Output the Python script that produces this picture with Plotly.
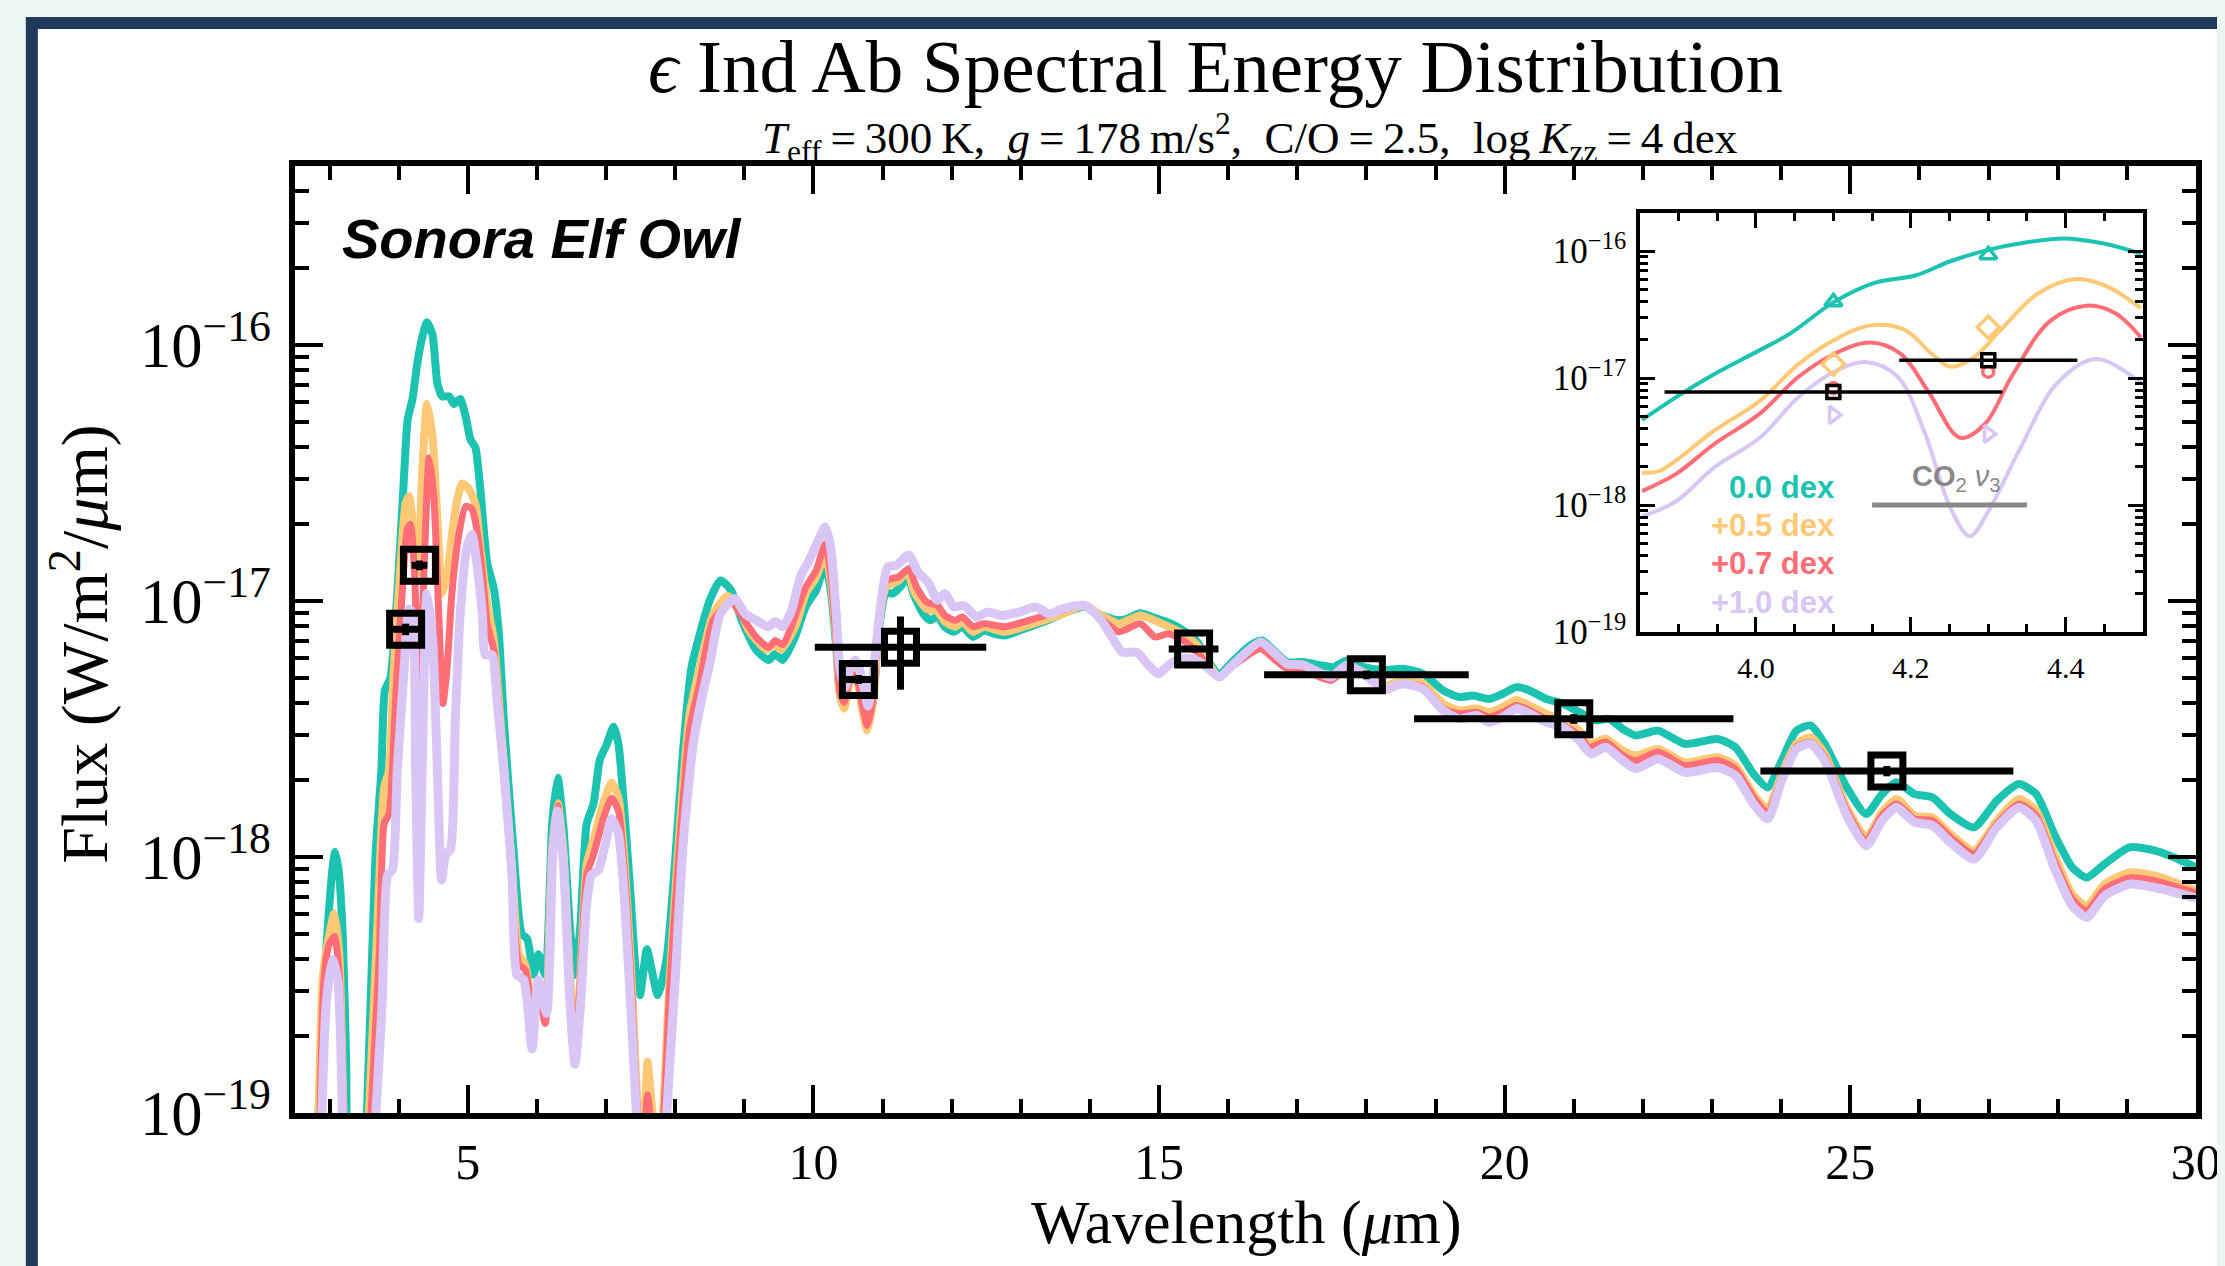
import plotly.graph_objects as go

# ---------------- data (log10 flux in W/m^2/um) ----------------
teal_wl = [2.78, 2.86, 2.93, 2.98, 3.04, 3.08, 3.13, 3.19, 3.24, 3.29, 3.45, 3.54, 3.62, 3.67, 3.75, 3.80, 3.88,
           3.98, 4.08, 4.13, 4.20, 4.27, 4.34, 4.41, 4.49, 4.56, 4.63, 4.73, 4.80, 4.89, 4.97, 5.04, 5.11, 5.18,
           5.28, 5.375, 5.45, 5.52, 5.66, 5.78, 5.86, 5.95, 6.02, 6.12, 6.22, 6.30, 6.38, 6.48, 6.55, 6.625,
           6.72, 6.82, 6.91, 7.01, 7.11, 7.18, 7.25, 7.35, 7.44, 7.49, 7.59, 7.66, 7.75, 7.875, 7.995, 8.115,
           8.235, 8.355, 8.50, 8.654, 8.81, 8.963, 9.17, 9.35, 9.45, 9.555, 9.735, 9.89, 10.04, 10.17, 10.25,
           10.33, 10.38, 10.43, 10.51, 10.61, 10.71, 10.79, 10.87, 10.945, 11.05, 11.15, 11.255, 11.36, 11.46,
           11.59, 11.69, 11.795, 11.90, 12.03, 12.155, 12.31, 12.465, 12.62, 12.77, 12.98, 13.185, 13.39, 13.60,
           13.80, 13.93, 14.06, 14.215, 14.42, 14.525, 14.73, 14.885, 15.04, 15.19, 15.35, 15.554, 15.70, 15.87,
           16.08, 16.32, 16.49, 16.66, 16.85, 17.09, 17.33, 17.52, 17.72, 17.96, 18.25, 18.53, 18.82, 19.11,
           19.35, 19.54, 19.78, 19.975, 20.17, 20.36, 20.60, 20.84, 21.08, 21.32, 21.51, 21.71, 21.90, 22.22,
           22.61, 23.08, 23.34, 23.60, 23.805, 24.01, 24.22, 24.43, 24.63, 24.95, 25.23, 25.46, 25.67, 25.93,
           26.19, 26.45, 26.79, 27.12, 27.44, 27.69, 27.95, 28.21, 28.42, 28.68, 29.04, 29.41, 29.67, 30.0]
teal_logf = [-19.3, -18.9, -18.45, -18.25, -18.05, -17.98, -18.05, -18.3, -18.8, -19.4, -19.5, -19.0, -18.35,
             -17.97, -17.66, -17.35, -17.30, -16.97, -16.50, -16.29, -16.21, -16.07, -15.97, -15.91, -15.96,
             -16.15, -16.20, -16.20, -16.23, -16.21, -16.28, -16.37, -16.40, -16.56, -16.85, -16.95, -17.13,
             -17.46, -17.97, -18.30, -18.32, -18.46, -18.38, -18.46, -17.87, -17.69, -17.87, -18.28, -18.46,
             -18.28, -17.87, -17.79, -17.62, -17.56, -17.49, -17.56, -17.77, -18.13, -18.48, -18.54, -18.36,
             -18.44, -18.54, -18.40, -18.03, -17.58, -17.26, -17.13, -16.997, -16.919, -16.958, -17.075, -17.19,
             -17.23, -17.206, -17.23, -17.14, -17.02, -16.958, -16.854, -16.958, -17.18, -17.36, -17.41, -17.31,
             -17.26, -17.41, -17.49, -17.375, -17.115, -16.97, -16.97, -16.945, -16.906, -16.98, -17.05, -17.075,
             -17.06, -17.10, -17.12, -17.10, -17.14, -17.115, -17.128, -17.134, -17.115, -17.095, -17.075, -17.05,
             -17.03, -17.02, -17.043, -17.06, -17.075, -17.07, -17.047, -17.06, -17.075, -17.09, -17.115, -17.16,
             -17.23, -17.284, -17.232, -17.173, -17.154, -17.193, -17.238, -17.238, -17.25, -17.258, -17.232,
             -17.258, -17.27, -17.264, -17.284, -17.349, -17.375, -17.369, -17.382, -17.362, -17.336, -17.349,
             -17.382, -17.40, -17.434, -17.466, -17.46, -17.50, -17.525, -17.506, -17.558, -17.539, -17.571,
             -17.675, -17.728, -17.623, -17.506, -17.486, -17.558, -17.728, -17.832, -17.754, -17.708, -17.754,
             -17.767, -17.832, -17.884, -17.78, -17.715, -17.754, -17.91, -18.04, -18.08, -18.027, -17.962,
             -17.975, -18.0, -18.04]

orange_wl = [2.82, 2.90, 2.97, 3.07, 3.14, 3.21, 3.26, 3.48, 3.57, 3.69, 3.79, 3.86, 3.93, 4.03, 4.10, 4.15,
             4.22, 4.28, 4.34, 4.41, 4.49, 4.56, 4.63, 4.70, 4.77, 4.85, 4.92, 5.01, 5.11, 5.18, 5.28, 5.375,
             5.47, 5.62, 5.74, 5.83, 5.95, 6.02, 6.12, 6.22, 6.30, 6.38, 6.48, 6.55, 6.625, 6.72, 6.82, 6.96,
             7.08, 7.18, 7.27, 7.37, 7.47, 7.54, 7.60, 7.68, 7.78, 7.92, 8.07, 8.21, 8.355, 8.55, 8.757, 8.91,
             9.066, 9.324, 9.43, 9.53, 9.735, 9.89, 10.04, 10.17, 10.25, 10.33, 10.38, 10.445, 10.51, 10.61,
             10.71, 10.78, 10.87, 10.945, 11.05, 11.23, 11.36, 11.46, 11.64, 11.795, 11.90, 12.05, 12.155,
             12.31, 12.465, 12.77, 13.185, 13.60, 13.93, 14.165, 14.42, 14.73, 15.04, 15.35, 15.554, 15.87,
             16.08, 16.47, 16.66, 16.85, 17.09, 17.48, 17.72, 17.96, 18.25, 18.53, 18.82, 19.11, 19.35, 19.59,
             19.78, 19.975, 20.17, 20.36, 20.60, 20.84, 21.08, 21.22, 21.46, 21.71, 21.90, 22.22, 22.61, 23.08,
             23.34, 23.60, 23.805, 24.01, 24.22, 24.43, 24.63, 24.95, 25.23, 25.46, 25.67, 25.93, 26.19, 26.45,
             26.79, 27.12, 27.44, 27.69, 27.95, 28.21, 28.42, 28.68, 29.04, 29.41, 30.0]
orange_logf = [-19.3, -18.48, -18.34, -18.22, -18.38, -19.1, -19.5, -19.5, -19.0, -18.28, -17.73, -17.66, -17.26,
               -16.85, -16.62, -16.59, -16.74, -16.89, -16.50, -16.23, -16.36, -16.68, -16.97, -16.90, -16.74,
               -16.60, -16.54, -16.56, -16.62, -16.785, -17.01, -17.15, -17.46, -17.97, -18.38, -18.42, -18.61,
               -18.52, -18.63, -17.97, -17.79, -17.97, -18.48, -18.73, -18.48, -18.03, -17.93, -17.79, -17.71,
               -17.77, -18.03, -18.48, -19.01, -19.1, -18.80, -19.01, -19.1, -18.48, -17.87, -17.44, -17.26,
               -17.05, -16.98, -17.02, -17.115, -17.19, -17.167, -17.19, -17.10, -16.97, -16.906, -16.815, -16.92,
               -17.154, -17.36, -17.42, -17.336, -17.28, -17.43, -17.506, -17.375, -17.10, -16.945, -16.92,
               -16.886, -16.965, -17.03, -17.04, -17.08, -17.10, -17.08, -17.12, -17.10, -17.12, -17.088, -17.05,
               -17.017, -17.056, -17.088, -17.056, -17.088, -17.128, -17.173, -17.297, -17.245, -17.173, -17.212,
               -17.258, -17.264, -17.303, -17.258, -17.277, -17.33, -17.31, -17.323, -17.40, -17.427, -17.42,
               -17.434, -17.414, -17.386, -17.408, -17.44, -17.466, -17.506, -17.558, -17.538, -17.584, -17.603,
               -17.578, -17.63, -17.61, -17.643, -17.754, -17.812, -17.675, -17.558, -17.532, -17.597, -17.806,
               -17.923, -17.825, -17.773, -17.838, -17.845, -17.91, -17.975, -17.858, -17.773, -17.819, -17.988,
               -18.145, -18.19, -18.106, -18.06, -18.073, -18.13]

red_wl = [2.84, 2.92, 2.995, 3.07, 3.14, 3.21, 3.26, 3.50, 3.60, 3.72, 3.79, 3.86, 3.96, 4.05, 4.125, 4.17,
          4.23, 4.29, 4.37, 4.44, 4.51, 4.58, 4.64, 4.70, 4.77, 4.87, 4.97, 5.06, 5.13, 5.21, 5.28, 5.375, 5.47,
          5.62, 5.74, 5.83, 5.95, 6.02, 6.12, 6.22, 6.30, 6.38, 6.48, 6.55, 6.625, 6.72, 6.82, 6.96, 7.08, 7.18,
          7.27, 7.37, 7.47, 7.54, 7.60, 7.68, 7.78, 7.92, 8.07, 8.21, 8.355, 8.55, 8.81, 8.963, 9.17, 9.35, 9.45,
          9.555, 9.735, 9.89, 10.04, 10.17, 10.25, 10.33, 10.38, 10.445, 10.51, 10.61, 10.71, 10.78, 10.87,
          10.945, 11.05, 11.23, 11.38, 11.49, 11.64, 11.795, 11.90, 12.05, 12.155, 12.31, 12.465, 12.77, 13.185,
          13.60, 13.93, 14.165, 14.42, 14.73, 14.94, 15.14, 15.35, 15.554, 15.87, 16.08, 16.47, 16.66, 16.85,
          17.09, 17.48, 17.72, 17.96, 18.25, 18.53, 18.82, 19.11, 19.35, 19.59, 19.78, 19.975, 20.17, 20.36,
          20.60, 20.84, 21.08, 21.22, 21.46, 21.71, 21.90, 22.22, 22.61, 23.08, 23.34, 23.60, 23.805, 24.01,
          24.22, 24.43, 24.63, 24.95, 25.23, 25.46, 25.67, 25.93, 26.19, 26.45, 26.79, 27.12, 27.44, 27.69,
          27.95, 28.21, 28.42, 28.68, 29.04, 29.41, 30.0]
red_logf = [-19.3, -18.48, -18.34, -18.31, -18.46, -19.1, -19.5, -19.5, -19.0, -18.38, -17.87, -17.83, -17.36,
            -16.97, -16.72, -16.70, -16.89, -17.46, -16.85, -16.44, -16.60, -17.05, -17.40, -17.26, -16.97,
            -16.74, -16.63, -16.64, -16.72, -16.89, -17.09, -17.19, -17.50, -18.01, -18.42, -18.44, -18.63,
            -18.54, -18.65, -17.99, -17.80, -17.99, -18.50, -18.75, -18.50, -18.07, -17.99, -17.85, -17.77,
            -17.82, -18.07, -18.52, -19.05, -19.14, -18.93, -19.1, -19.18, -18.52, -17.93, -17.50, -17.32,
            -17.075, -17.004, -17.06, -17.14, -17.18, -17.154, -17.17, -17.06, -16.945, -16.88, -16.776, -16.893,
            -17.154, -17.35, -17.395, -17.32, -17.29, -17.41, -17.486, -17.36, -17.075, -16.92, -16.906, -16.873,
            -16.945, -17.004, -17.017, -17.056, -17.075, -17.062, -17.10, -17.088, -17.10, -17.07, -17.036,
            -17.017, -17.07, -17.12, -17.088, -17.14, -17.128, -17.154, -17.20, -17.297, -17.25, -17.186,
            -17.225, -17.264, -17.27, -17.31, -17.264, -17.284, -17.349, -17.323, -17.336, -17.42, -17.44,
            -17.434, -17.453, -17.434, -17.408, -17.427, -17.46, -17.486, -17.525, -17.571, -17.55, -17.603,
            -17.623, -17.59, -17.643, -17.623, -17.656, -17.767, -17.825, -17.688, -17.571, -17.552, -17.61,
            -17.819, -17.936, -17.838, -17.793, -17.851, -17.858, -17.923, -17.988, -17.871, -17.793, -17.838,
            -18.014, -18.164, -18.21, -18.125, -18.082, -18.093, -18.14]

lav_wl = [2.86, 2.95, 3.04, 3.12, 3.19, 3.24, 3.58, 3.67, 3.76, 3.84, 3.91, 3.98, 4.08, 4.15, 4.20, 4.245, 4.29,
          4.34, 4.41, 4.49, 4.56, 4.62, 4.68, 4.75, 4.82, 4.89, 4.99, 5.06, 5.13, 5.21, 5.255, 5.35, 5.42, 5.52,
          5.64, 5.71, 5.81, 5.93, 6.02, 6.14, 6.23, 6.30, 6.38, 6.48, 6.55, 6.63, 6.72, 6.79, 6.89, 6.99, 7.08,
          7.18, 7.27, 7.37, 7.44, 7.50, 7.80, 7.875, 8.0, 8.115, 8.26, 8.40, 8.50, 8.654, 8.86, 9.015, 9.17,
          9.35, 9.45, 9.555, 9.684, 9.81, 9.94, 10.07, 10.17, 10.25, 10.33, 10.38, 10.456, 10.53, 10.61, 10.71,
          10.79, 10.87, 10.97, 11.074, 11.20, 11.38, 11.51, 11.666, 11.795, 11.90, 12.03, 12.18, 12.36, 12.52,
          12.72, 12.98, 13.21, 13.42, 13.60, 13.93, 14.165, 14.32, 14.47, 14.68, 14.83, 14.99, 15.14, 15.30,
          15.50, 15.70, 15.87, 16.08, 16.47, 16.66, 16.85, 17.09, 17.48, 17.72, 17.96, 18.25, 18.53, 18.82,
          19.11, 19.35, 19.59, 19.78, 19.975, 20.17, 20.36, 20.60, 20.84, 21.08, 21.25, 21.46, 21.71, 21.90,
          22.22, 22.61, 23.08, 23.34, 23.60, 23.805, 24.01, 24.22, 24.43, 24.63, 24.95, 25.23, 25.46, 25.67,
          25.93, 26.19, 26.45, 26.79, 27.12, 27.44, 27.69, 27.95, 28.21, 28.42, 28.68, 29.04, 29.41, 30.0]
lav_logf = [-19.3, -18.58, -18.40, -18.48, -19.05, -19.5, -19.5, -19.0, -18.58, -18.07, -18.05, -17.66, -17.26,
            -17.03, -17.05, -17.66, -18.24, -17.66, -16.97, -17.15, -17.66, -18.09, -17.99, -17.97, -17.46,
            -17.05, -16.785, -16.74, -16.85, -17.05, -17.21, -17.21, -17.38, -17.66, -18.07, -18.46, -18.48,
            -18.75, -18.48, -18.61, -17.99, -17.82, -18.01, -18.58, -18.81, -18.58, -18.18, -18.07, -18.05,
            -17.95, -17.85, -17.91, -18.18, -18.65, -19.01, -19.4, -19.4, -19.01, -18.48, -17.95, -17.56, -17.36,
            -17.245, -17.05, -16.99, -17.05, -17.075, -17.10, -17.08, -17.10, -17.036, -16.906, -16.84, -16.763,
            -16.71, -16.79, -17.05, -17.258, -17.336, -17.258, -17.23, -17.31, -17.41, -17.27, -17.023, -16.867,
            -16.86, -16.82, -16.886, -16.93, -16.997, -16.97, -17.023, -17.017, -17.062, -17.043, -17.056,
            -17.043, -17.023, -17.05, -17.03, -17.017, -17.075, -17.14, -17.20, -17.20, -17.245, -17.284, -17.25,
            -17.225, -17.225, -17.26, -17.297, -17.245, -17.16, -17.20, -17.245, -17.25, -17.297, -17.25,
            -17.284, -17.343, -17.323, -17.343, -17.427, -17.46, -17.447, -17.473, -17.453, -17.42, -17.44,
            -17.473, -17.493, -17.545, -17.597, -17.571, -17.623, -17.655, -17.617, -17.669, -17.65, -17.682,
            -17.793, -17.851, -17.70, -17.578, -17.558, -17.623, -17.838, -17.956, -17.858, -17.806, -17.864,
            -17.877, -17.943, -18.008, -17.884, -17.806, -17.858, -18.04, -18.19, -18.236, -18.151, -18.106,
            -18.119, -18.16]

# observed photometry
obs_wl = [4.10, 4.30, 10.65, 11.26, 15.50, 18.00, 21.00, 25.53]
obs_logf = [-17.11, -16.86, -17.306, -17.18, -17.187, -17.288, -17.46, -17.664]
obs_xerr = [0.218, 0.115, 0.28, 1.24, 0.36, 1.48, 2.31, 1.83]
obs_yerr = [0.4e-18, 0.6e-18, 0.2e-18, 2.1e-18, 0.2e-18, 0.2e-18, 0.15e-18, 0.1e-18]

# inset (3.85 - 4.5 um) model spectra
in_teal_wl = [3.853, 3.897, 3.946, 4.005, 4.044, 4.101, 4.153, 4.207, 4.251, 4.30, 4.35, 4.40, 4.449, 4.497]
in_teal_logf = [-17.33, -17.15, -16.97, -16.78, -16.65, -16.40, -16.25, -16.19, -16.08, -15.99, -15.93, -15.90,
                -15.94, -16.02]
in_orange_wl = [3.853, 3.876, 3.946, 4.005, 4.055, 4.101, 4.148, 4.192, 4.227, 4.251, 4.281, 4.316, 4.365,
                4.414, 4.454, 4.497]
in_orange_logf = [-17.745, -17.73, -17.415, -17.18, -16.89, -16.70, -16.585, -16.62, -16.81, -16.91, -16.84,
                  -16.62, -16.33, -16.22, -16.28, -16.45]
in_red_wl = [3.853, 3.897, 3.946, 4.005, 4.055, 4.101, 4.148, 4.187, 4.222, 4.264, 4.296, 4.330, 4.380, 4.427,
             4.464, 4.497]
in_red_logf = [-17.89, -17.755, -17.52, -17.28, -16.99, -16.81, -16.72, -16.81, -17.10, -17.47, -17.36, -16.99,
               -16.55, -16.43, -16.49, -16.68]
in_lav_wl = [3.853, 3.897, 3.946, 4.005, 4.055, 4.101, 4.143, 4.183, 4.217, 4.251, 4.276, 4.30, 4.34, 4.389,
             4.439, 4.497]
in_lav_logf = [-18.09, -17.97, -17.705, -17.47, -17.15, -16.95, -16.875, -16.99, -17.415, -18.02, -18.245,
               -18.05, -17.57, -17.04, -16.85, -17.04]

# model photometry in the two filters
phot_wl = [4.10, 4.30]
phot_teal_logf = [-16.40, -16.03]
phot_orange_logf = [-16.89, -16.60]
phot_red_logf = [-17.08, -16.95]
phot_lav_logf = [-17.29, -17.44]

co2_band_wl = [4.15, 4.35]
co2_band_flux = [1e-18, 1e-18]

series_names = ["0.0 dex", "+0.5 dex", "+0.7 dex", "+1.0 dex"]
series_colors = ["#1cc3b0", "#ffc874", "#ff6e76", "#d9c6f5"]

# ---------------- helpers ----------------
def lin(vals):
    return [10 ** v for v in vals]

W, H = 2225, 1266
OFF = 8  # default page margin of the html body: layout is shifted by this amount
ML, MR, MT, MB = 295 - OFF, 23 + OFF, 166 - OFF, 153 + OFF
PW, PH = W - ML - MR, H - MT - MB

def pxx(px):
    # target screen pixel -> paper fraction
    return (px - OFF - ML) / PW

def pxy(py):
    return (H - MB - (py - OFF)) / PH

SERIF = "Liberation Serif"
SANS = "Liberation Sans"
BG = "#eef6f1"
IX = 4  # small horizontal nudge of the inset block

fig = go.Figure()

main_sets = [(teal_wl, teal_logf), (orange_wl, orange_logf), (red_wl, red_logf), (lav_wl, lav_logf)]
widths = [8, 8, 7, 9]
for (wl, lf), name, col, w in zip(main_sets, series_names, series_colors, widths):
    fig.add_trace(go.Scatter(x=wl, y=lin(lf), mode="lines", name=name,
                             line=dict(color=col, width=w, shape="spline", smoothing=0.6),
                             showlegend=False, hoverinfo="skip"))

fig.add_trace(go.Scatter(
    x=obs_wl, y=lin(obs_logf), mode="markers", showlegend=False,
    marker=dict(symbol="square-open", size=32, color="black", line=dict(width=7, color="black")),
    error_x=dict(type="data", array=obs_xerr, thickness=7, width=0, color="black"),
    error_y=dict(type="data", array=obs_yerr, thickness=7, width=0, color="black")))

# inset
in_sets = [(in_teal_wl, in_teal_logf), (in_orange_wl, in_orange_logf), (in_red_wl, in_red_logf),
           (in_lav_wl, in_lav_logf)]
for (wl, lf), col in zip(in_sets, series_colors):
    fig.add_trace(go.Scatter(x=wl, y=lin(lf), mode="lines", xaxis="x2", yaxis="y2", showlegend=False,
                             line=dict(color=col, width=4, shape="spline", smoothing=1.0), hoverinfo="skip"))

fig.add_trace(go.Scatter(x=co2_band_wl, y=co2_band_flux, mode="lines", xaxis="x2", yaxis="y2",
                         showlegend=False, line=dict(color="#888888", width=5)))

phot_sets = [(phot_teal_logf, "triangle-up-open", 15), (phot_orange_logf, "diamond-open", 17),
             (phot_red_logf, "circle-open", 11), (phot_lav_logf, "triangle-right-open", 15)]
for (lf, sym, sz), col in zip(phot_sets, series_colors):
    fig.add_trace(go.Scatter(x=phot_wl, y=lin(lf), mode="markers", xaxis="x2", yaxis="y2", showlegend=False,
                             marker=dict(symbol=sym, size=sz, color=col, line=dict(width=3.5, color=col))))

fig.add_trace(go.Scatter(
    x=obs_wl[:2], y=lin(obs_logf[:2]), mode="markers", xaxis="x2", yaxis="y2", showlegend=False,
    marker=dict(symbol="square-open", size=13, color="black", line=dict(width=3.5, color="black")),
    error_x=dict(type="data", array=obs_xerr[:2], thickness=3.5, width=0, color="black")))

# ---------------- layout ----------------
tickfont_main = dict(family=SERIF, size=50, color="black")
axis_common = dict(showgrid=False, zeroline=False, showline=True, linecolor="black", mirror="allticks",
                   ticks="inside", tickcolor="black", ticklabeloverflow="allow")

fig.update_layout(
    width=W, height=H,
    margin=dict(l=ML, r=MR, t=MT, b=MB, pad=0),
    paper_bgcolor=BG, plot_bgcolor="white",
    showlegend=False,
    xaxis=dict(**axis_common, range=[2.5, 30.002], dtick=5, tick0=0, ticklen=28, tickwidth=4, linewidth=6,
               tickfont=tickfont_main, ticklabelstandoff=0,
               minor=dict(ticks="inside", ticklen=14, tickwidth=4, dtick=1, tick0=0, tickcolor="black",
                          showgrid=False)),
    yaxis=dict(**axis_common, type="log", range=[-19, -15.3], dtick=1, exponentformat="power",
               ticklen=28, tickwidth=4, linewidth=6, tickfont=tickfont_main, ticklabelstandoff=8,
               minor=dict(ticks="inside", ticklen=14, tickwidth=4, dtick="D1", tickcolor="black",
                          showgrid=False)),
    xaxis2=dict(**axis_common, domain=[pxx(1640 + IX), pxx(2145 + IX)], anchor="y2", range=[3.85, 4.5],
                dtick=0.2, tick0=0, tickformat=".1f", ticklen=15, tickwidth=3, linewidth=4,
                tickfont=dict(family=SERIF, size=30, color="black"), ticklabelstandoff=6,
                minor=dict(ticks="inside", ticklen=8, tickwidth=2.5, dtick=0.05, tick0=0, tickcolor="black",
                           showgrid=False)),
    yaxis2=dict(**axis_common, domain=[pxy(632), pxy(213)], anchor="x2", type="log", range=[-19, -15.7],
                dtick=1, exponentformat="power", ticklen=15, tickwidth=3, linewidth=4,
                tickfont=dict(family=SERIF, size=28, color="black"), ticklabelstandoff=4,
                minor=dict(ticks="inside", ticklen=8, tickwidth=2.5, dtick="D1", tickcolor="black",
                           showgrid=False)),
)

# frame
fig.add_shape(type="rect", xref="paper", yref="paper", x0=pxx(31), x1=pxx(2300), y0=pxy(1320), y1=pxy(23),
              line=dict(color="#22395e", width=12), fillcolor="white", layer="below")

ann = []
ann.append(dict(text="<i>ϵ</i> Ind Ab Spectral Energy Distribution", x=pxx(1218), y=pxy(67),
                font=dict(family=SERIF, size=75, color="black")))
ann.append(dict(text="<i>T</i><sub>eff</sub>\u2009=\u2009300\u2009K,\u00a0 <i>g</i>\u2009=\u2009178\u2009m/s<sup>2</sup>,"
                     "\u00a0 C/O\u2009=\u20092.5,\u00a0 log\u2009<i>K</i><sub>zz</sub>\u2009=\u20094\u2009dex",
                x=pxx(1253), y=pxy(137), font=dict(family=SERIF, size=45, color="black")))
ann.append(dict(text="<b><i>Sonora Elf Owl</i></b>", x=pxx(340), y=pxy(238), xanchor="left",
                font=dict(family=SANS, size=56, color="black")))
ann.append(dict(text="Wavelength (<i>μ</i>m)", x=pxx(1250), y=pxy(1222),
                font=dict(family=SERIF, size=62, color="black")))
ann.append(dict(text="Flux (W/m<sup>2</sup>/<i>μ</i>m)", x=pxx(80), y=pxy(644), textangle=-90,
                font=dict(family=SERIF, size=66, color="black")))
for name, col, py in zip(series_names, series_colors, [487, 525, 563, 602]):
    ann.append(dict(text="<b>" + name + "</b>", x=pxx(1838 + IX), y=pxy(py), xanchor="right",
                    font=dict(family=SANS, size=31, color=col)))
ann.append(dict(text="<b>CO</b><sub>2</sub> <i>ν</i><sub>3</sub>", x=pxx(1958 + IX), y=pxy(478),
                font=dict(family=SANS, size=29, color="#888888")))

for a in ann:
    a.setdefault("xanchor", "center")
    a.setdefault("yanchor", "middle")
    a.update(xref="paper", yref="paper", showarrow=False)
fig.update_layout(annotations=ann)

fig.write_html("out.html", config={"displayModeBar": False, "responsive": False},
               post_script="document.body.style.background='" + BG + "';")
